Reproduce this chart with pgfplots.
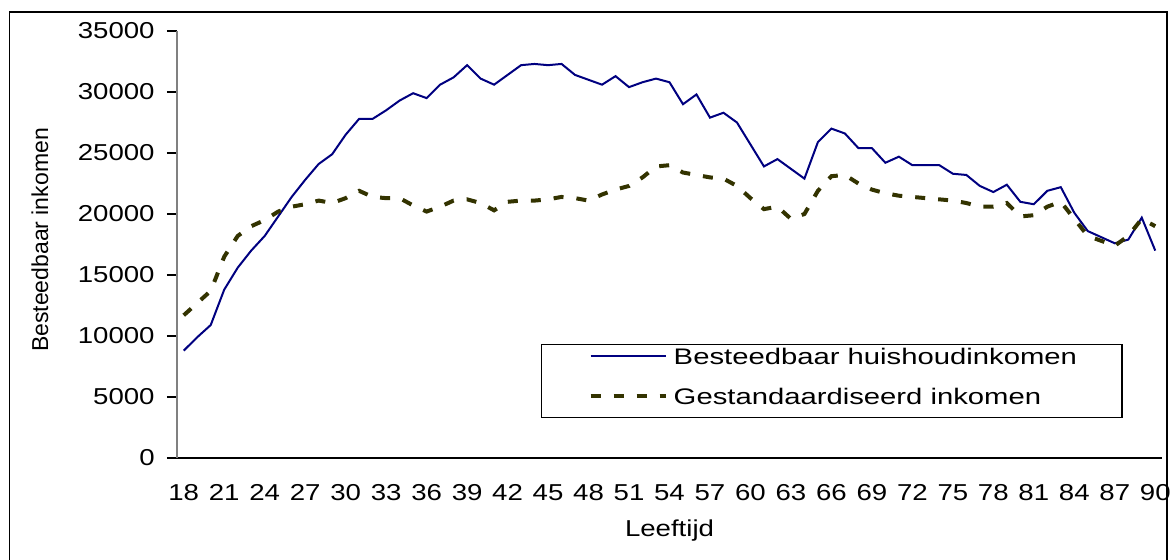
\documentclass[border=0pt]{standalone}
\usepackage{pgfplots}
\pgfplotsset{compat=1.18}
\usepackage{pgfplotstable}
\usepackage{fontspec}
\setmainfont{Liberation Sans}[FakeStretch=1.2]
\newfontfamily\ylabfont{Liberation Sans}
\newfontfamily\legfont{Liberation Sans}[FakeStretch=1.3]
\definecolor{navyline}{HTML}{000080}
\definecolor{oliveline}{HTML}{333300}

% leeftijd, besteedbaar huishoudinkomen, gestandaardiseerd inkomen
\pgfplotstableread{
age hh std
18 8800 11700
19 9900 12700
20 10900 13700
21 13800 16500
22 15600 18200
23 17000 19000
24 18200 19500
25 19800 20200
26 21400 20600
27 22800 20800
28 24100 21100
29 24900 20900
30 26500 21300
31 27800 21900
32 27800 21400
33 28500 21300
34 29300 21300
35 29900 20700
36 29500 20200
37 30600 20600
38 31200 21100
39 32200 21200
40 31100 20900
41 30600 20300
42 31400 21000
43 32200 21100
44 32300 21100
45 32200 21200
46 32300 21400
47 31400 21300
48 31000 21100
49 30600 21600
50 31300 22000
51 30400 22300
52 30800 23000
53 31100 23900
54 30800 24000
55 29000 23400
56 29800 23200
57 27900 23000
58 28300 22900
59 27500 22300
60 25700 21300
61 23900 20400
62 24500 20600
63 23700 19600
64 22900 20000
65 25900 21900
66 27000 23100
67 26600 23200
68 25400 22500
69 25400 22000
70 24200 21700
71 24700 21500
72 24000 21400
73 24000 21300
74 24000 21200
75 23300 21100
76 23200 20900
77 22300 20600
78 21800 20600
79 22400 20900
80 21000 19800
81 20800 19900
82 21900 20600
83 22200 21000
84 20100 19600
85 18600 18200
86 18100 17800
87 17600 17400
88 17900 18200
89 19700 19600
90 17000 19000
}\inkomen

\begin{document}
\begin{tikzpicture}
\path[use as bounding box] (-88.5bp,-51bp) rectangle (498.5bp,229bp);
\draw[line width=0.75bp] (-83.75bp,-60bp) rectangle (495bp,223bp);
\begin{axis}[
  scale only axis,
  width=492.5bp, height=213.5bp,
  xmin=17.5, xmax=90.5, ymin=0, ymax=35000,
  axis x line*=bottom, axis y line*=left,
  x axis line style={black, line width=0.75bp, -},
  y axis line style={gray, line width=0.75bp, -},
  xtick={18,21,...,90},
  minor xtick={17.5,18.5,...,90.5},
  ytick={0,5000,...,35000},
  scaled y ticks=false,
  tick align=outside,
  major tick length=5bp, minor tick length=3bp,
  xtick style={draw=none},
  ytick style={black, line width=0.6bp},
  minor tick style={gray, line width=0.6bp},
  /pgf/number format/assume math mode=true,
  /pgf/number format/set thousands separator={},
  tick label style={font=\fontsize{11.5bp}{13bp}\selectfont, inner sep=0pt},
  yticklabel style={anchor=east, xshift=-6bp},
  xticklabel style={anchor=north, yshift=-8bp},
  xlabel={Leeftijd},
  xlabel style={font=\fontsize{11.5bp}{13bp}\selectfont, at={(axis description cs:0.5,-0.171)}, anchor=center},
  ylabel={Besteedbaar inkomen},
  ylabel style={font=\ylabfont\fontsize{11.5bp}{13bp}\selectfont, at={(axis description cs:-0.1391,0.5105)}, anchor=center},
  legend style={at={(axis description cs:0.36954,0.09368)}, anchor=south west,
    draw=black, line width=0.75bp, inner sep=0pt, row sep=3.5bp,
    nodes={inner sep=0pt, anchor=base west, text height=10bp, text depth=6.5bp,
      font=\legfont\fontsize{11.25bp}{13bp}\selectfont}},
  legend image code/.code={
    \path[draw=none, fill=none] (0bp,0bp) rectangle (66bp,4bp);
    \draw[#1] (24.5bp,4bp) -- (62bp,4bp);},
  legend cell align=left,
]
\addplot[navyline, line width=1bp] table[x=age, y=hh] {\inkomen};
\addlegendentry{\makebox[224bp][l]{Besteedbaar huishoudinkomen}}
\addplot[oliveline, line width=2bp, dash pattern=on 5bp off 6.5bp] table[x=age, y=std] {\inkomen};
\addlegendentry{\makebox[224bp][l]{Gestandaardiseerd inkomen}}
\end{axis}
\end{tikzpicture}
\end{document}
